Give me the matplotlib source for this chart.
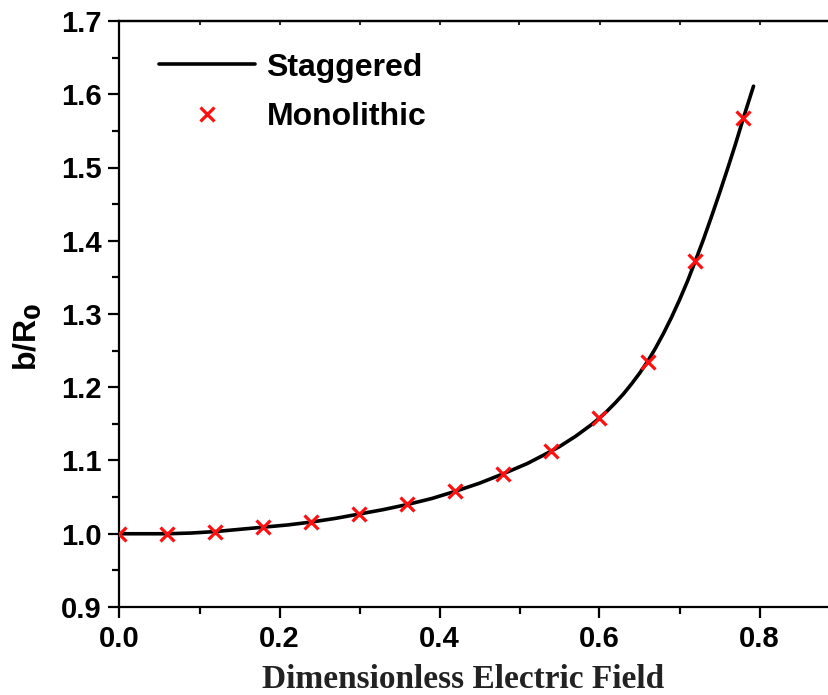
import matplotlib
matplotlib.use("Agg")
import matplotlib.pyplot as plt
from matplotlib.ticker import MultipleLocator

# Staggered solution (line)
stag_x = [0.00, 0.03, 0.06, 0.09, 0.12, 0.15, 0.18, 0.21, 0.24, 0.27, 0.30, 0.33,
          0.36, 0.39, 0.42, 0.45, 0.48, 0.51, 0.54, 0.55, 0.56, 0.57, 0.58, 0.59,
          0.60, 0.61, 0.62, 0.63, 0.64, 0.65, 0.66, 0.67, 0.68, 0.69, 0.70, 0.71,
          0.72, 0.73, 0.74, 0.75, 0.76, 0.77, 0.78, 0.7925]
stag_y = [1.000, 1.000, 1.000, 1.001, 1.003, 1.006, 1.009, 1.012, 1.016, 1.021, 1.027, 1.033,
          1.040, 1.048, 1.058, 1.069, 1.082, 1.096, 1.113, 1.119, 1.126, 1.133, 1.141, 1.149,
          1.158, 1.168, 1.179, 1.191, 1.2045, 1.219, 1.235, 1.2534, 1.2735, 1.2954, 1.3192, 1.3448,
          1.373, 1.402, 1.433, 1.465, 1.498, 1.532, 1.568, 1.611]

# Monolithic solution (markers)
mono_x = [0.0, 0.06, 0.12, 0.18, 0.24, 0.30, 0.36, 0.42, 0.48, 0.54, 0.60, 0.66, 0.72, 0.78]
mono_y = [1.000, 1.000, 1.003, 1.009, 1.016, 1.027, 1.040, 1.058, 1.082, 1.113,
          1.158, 1.235, 1.373, 1.568]

xticks = [0.0, 0.2, 0.4, 0.6, 0.8]
yticks = [0.9, 1.0, 1.1, 1.2, 1.3, 1.4, 1.5, 1.6, 1.7]

fig = plt.figure(figsize=(8.29, 6.95), dpi=100)
ax = fig.add_axes([119.5/829, 1-607/695, 720/829, (607-21)/695])

ax.plot(stag_x, stag_y, color="black", lw=2.6, label="Staggered", zorder=2,
        solid_capstyle="round")
ax.plot(mono_x, mono_y, linestyle="none", marker="x", color="#ff1010",
        markersize=10, mew=2.3, label="Monolithic", zorder=3)

ax.set_xlim(0, 0.9)
ax.set_ylim(0.9, 1.7)
ax.set_xticks(xticks)
ax.set_yticks(yticks)
ax.set_xticklabels([f"{v:.1f}" for v in xticks])
ax.set_yticklabels([f"{v:.1f}" for v in yticks])
ax.xaxis.set_minor_locator(MultipleLocator(0.1))
ax.yaxis.set_minor_locator(MultipleLocator(0.05))

for s in ax.spines.values():
    s.set_linewidth(1.6)

ax.tick_params(axis="both", which="major", direction="out", length=8, width=1.6,
               labelsize=21, pad=5)
ax.tick_params(axis="both", which="minor", direction="out", length=5, width=1.6)

# short inward ticks on the top spine
top = ax.secondary_xaxis("top")
top.set_xticks([0.1 * i for i in range(10)])
top.tick_params(direction="in", length=3, width=1.2, labeltop=False)
top.set_xticklabels([])
top.spines["top"].set_linewidth(1.6)

for lab in ax.get_xticklabels() + ax.get_yticklabels():
    lab.set_fontfamily("Liberation Sans")
    lab.set_fontweight("bold")

ax.set_xlabel("Dimensionless Electric Field", fontfamily="Liberation Serif",
              fontweight="bold", fontsize=24, color="#222222", labelpad=8)
ax.xaxis.label.set_x(0.477)
ax.set_ylabel("b/R$_\\mathbf{0}$", fontfamily="Liberation Sans", fontweight="bold",
              fontsize=23, labelpad=12)
ax.yaxis.label.set_y(0.461)

leg = ax.legend(loc="upper left", bbox_to_anchor=(0.0155, 0.995), frameon=False,
                prop={"family": "Liberation Sans", "weight": "bold", "size": 23},
                handlelength=3.0, handletextpad=0.35, labelspacing=0.62)

fig.savefig("out.png", dpi=100)
